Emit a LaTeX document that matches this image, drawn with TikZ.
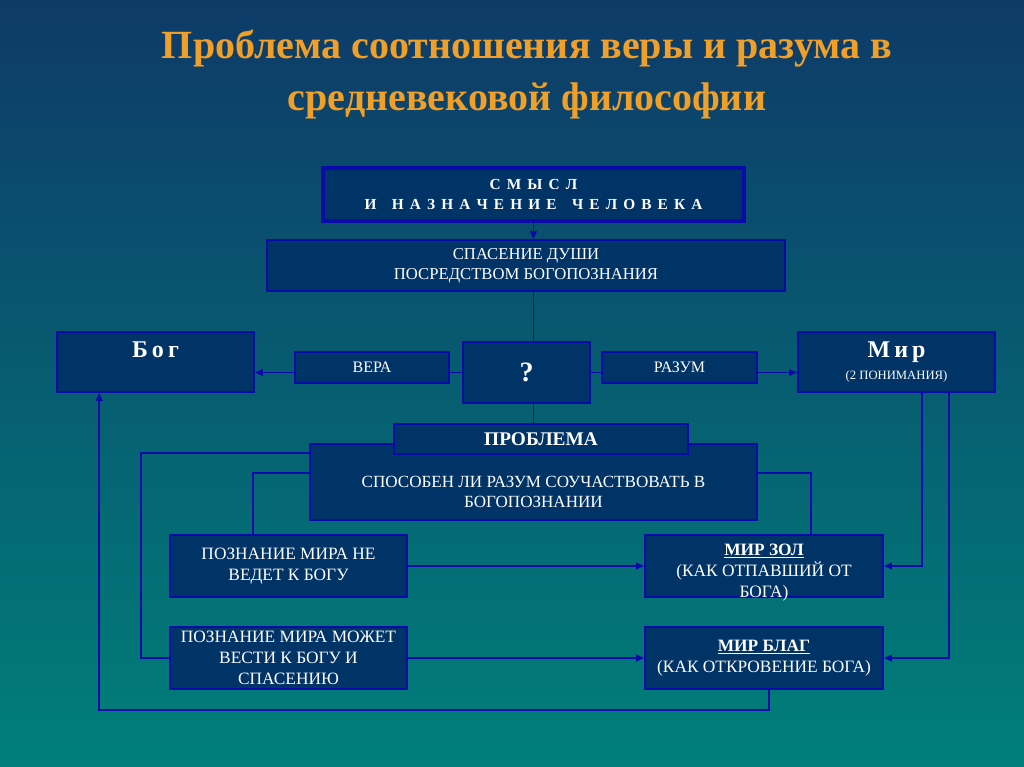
\documentclass[tikz,border=0pt]{standalone}
\usepackage{fontspec}
\setmainfont{Liberation Serif}
\usetikzlibrary{arrows.meta,calc}
\definecolor{bgtop}{RGB}{14,58,104}
\definecolor{bgbot}{RGB}{0,128,122}
\definecolor{boxfill}{RGB}{0,51,102}
\definecolor{lineblue}{RGB}{10,10,170}
\definecolor{titleorange}{RGB}{240,160,40}
\newcommand{\lsp}{\hspace{0.4em}}
\newcommand{\wsp}{\hspace{1em}}
\newcommand{\bsp}{\hspace{0.17em}}
\tikzset{
  box/.style 2 args={draw=lineblue, line width=1.2pt, fill=boxfill, text=white,
    align=center, inner sep=0pt, minimum width=#1*0.75pt, minimum height=#2*0.75pt,
    font=\fontsize{12.5}{15}\selectfont},
  boxtext/.style={text=white, align=center, inner sep=0pt, font=\fontsize{13}{16}\selectfont},
  conn/.style={draw=lineblue, line width=1.3pt},
  arr/.style={conn, -{Triangle[length=6pt,width=5pt]}},
}
\begin{document}
\begin{tikzpicture}[x=0.75pt,y=-0.75pt]
\useasboundingbox (0,0) rectangle (1024,767);
\shade[top color=bgtop, bottom color=bgbot] (0,0) rectangle (1024,767);

\node[text=titleorange, align=center, font=\fontsize{30}{39}\selectfont\bfseries] (title) at (527,74)
  {Проблема соотношения веры и разума в\\средневековой философии};

\node[box={421}{53}, line width=2.4pt, font=\fontsize{11.5}{15}\selectfont\bfseries] (smysl) at (533.5,194.5)
  {С\lsp М\lsp Ы\lsp С\lsp Л\\И\wsp Н\lsp А\lsp З\lsp Н\lsp А\lsp Ч\lsp Е\lsp Н\lsp И\lsp Е\wsp Ч\lsp Е\lsp Л\lsp О\lsp В\lsp Е\lsp К\lsp А};
\node[box={518}{51}] (spas) at (526,265.5) {СПАСЕНИЕ ДУШИ\\ПОСРЕДСТВОМ БОГОПОЗНАНИЯ};

\node[box={197}{60}, font=\fontsize{18}{20}\selectfont\bfseries] (bog) at (155.5,362)
  {Б\bsp о\bsp г\\[-3pt]{\fontsize{9.5}{10}\selectfont\phantom{(2 ПОНИМАНИЯ)}}};
\node[box={154}{31}, font=\fontsize{12}{13}\selectfont] (vera) at (372,367.5) {ВЕРА};
\node[box={127}{61}, font=\fontsize{21}{22}\selectfont\bfseries] (q) at (526.5,372.5) {?};
\node[box={155}{31}, font=\fontsize{12}{13}\selectfont] (razum) at (679.5,367.5) {РАЗУМ};
\node[box={197}{60}, font=\fontsize{18}{20}\selectfont\bfseries] (mir) at (896.5,362)
  {М\bsp и\bsp р\\[-3pt]{\fontsize{9.5}{10}\selectfont\mdseries (2 ПОНИМАНИЯ)}};

\node[box={447}{76}, font=\fontsize{12.8}{15}\selectfont] (main) at (533.5,482)
  {\mbox{}\\[8.5pt]СПОСОБЕН ЛИ РАЗУМ СОУЧАСТВОВАТЬ В\\БОГОПОЗНАНИИ};
\node[box={294}{30}, font=\fontsize{14.5}{16}\selectfont\bfseries] (prob) at (541,439) {ПРОБЛЕМА};

\node[box={237}{62}, font=\fontsize{13}{16}\selectfont] (pz1) at (288.5,566) {ПОЗНАНИЕ МИРА НЕ\\ВЕДЕТ К БОГУ};
\node[box={237}{62}, font=\fontsize{13}{16}\selectfont] (pz2) at (288.5,658) {ПОЗНАНИЕ МИРА МОЖЕТ\\ВЕСТИ К БОГУ И\\СПАСЕНИЮ};
\node[box={238}{62}, label={[boxtext, yshift=-5pt]center:{\underline{\textbf{МИР ЗОЛ}}\\(КАК ОТПАВШИЙ ОТ\\БОГА)}}] (zol) at (764,566) {};
\node[box={238}{62}, font=\fontsize{13}{16}\selectfont] (blag) at (764,658) {\underline{\textbf{МИР БЛАГ}}\\(КАК ОТКРОВЕНИЕ БОГА)};

\draw[arr] (smysl.south) -- (smysl.south |- spas.north);
\draw[conn] (spas.south -| smysl.south) -- (q.north -| smysl.south);
\draw[conn] (q.west) -- (vera.east |- q.west);
\draw[arr] (vera.west |- q.west) -- (bog.east |- q.west);
\draw[conn] (q.east) -- (razum.west |- q.east);
\draw[arr] (razum.east |- q.east) -- (mir.west |- q.east);
\draw[conn] (q.south -| smysl.south) -- (prob.north -| smysl.south);

\draw[conn] ($(main.north west)+(0,10)$) -| ($(pz2.west)+(-28,0)$) -- (pz2.west);
\draw[conn] ($(main.north west)+(0,30)$) -| ($(pz1.north west)+(84,0)$);
\draw[conn] ($(main.north east)+(0,30)$) -| ($(zol.north west)+(167,0)$);
\draw[arr] (pz1.east) -- (zol.west);
\draw[arr] (pz2.east) -- (blag.west);
\draw[arr] ($(mir.south west)+(125,0)$) |- (zol.east);
\draw[arr] ($(mir.south west)+(152,0)$) |- (blag.east);
\draw[arr] ($(blag.south west)+(125,0)$) -- ++(0,20) -| ($(bog.south west)+(43,0)$);
\end{tikzpicture}
\end{document}
